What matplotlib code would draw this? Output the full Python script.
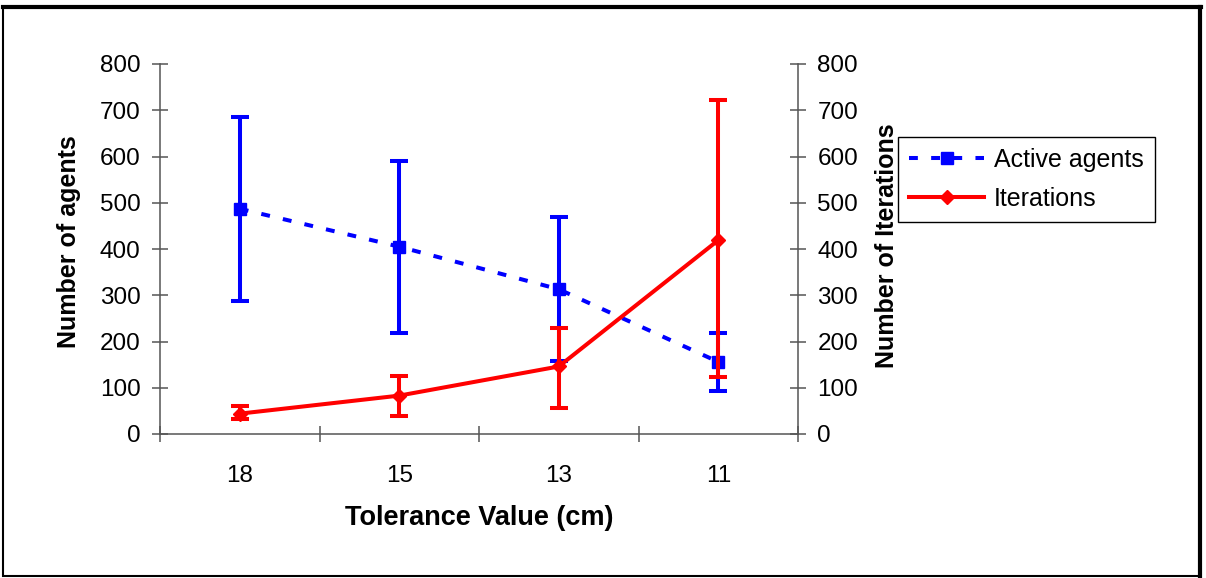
import matplotlib
matplotlib.use("Agg")
from matplotlib import pyplot as plt
from matplotlib.lines import Line2D
from matplotlib.patches import Rectangle
from matplotlib.ticker import FixedLocator, NullFormatter

# tolerance values (cm) on the category axis
tolerances = ["18", "15", "13", "11"]

# active agents: mean and error half-width
agents_mean = [487, 405, 313, 156]
agents_err = [199, 186, 156, 62]

# iterations: mean and asymmetric error (lower, upper)
iter_mean = [44, 83, 146, 419]
iter_err_low = [12, 44, 89, 296]
iter_err_high = [16, 43, 84, 303]

BLUE = "#0000ff"
RED = "#ff0000"
SPINE = "#555555"
DASHES = (0, (2.2, 3.3))

plt.rcParams["font.family"] = ["Liberation Sans", "DejaVu Sans"]

fig = plt.figure(figsize=(12.06, 5.78), dpi=100)
ax = fig.add_axes([160 / 1206, 1 - 434 / 578, 638 / 1206, 370 / 578])
ax2 = ax.twinx()

x = list(range(len(tolerances)))

ax.errorbar(x, agents_mean, yerr=agents_err, color=BLUE, lw=2.9,
            linestyle=DASHES, marker="s", ms=8.5,
            elinewidth=2.9, capsize=6.5, capthick=2.9, zorder=3)
ax2.errorbar(x, iter_mean, yerr=[iter_err_low, iter_err_high], color=RED,
             lw=2.9, marker="D", ms=7.5, elinewidth=2.9, capsize=6.5,
             capthick=2.9, zorder=3)

for a in (ax, ax2):
    a.set_xlim(-0.5, len(tolerances) - 0.5)
    a.set_ylim(0, 800)
    a.set_yticks(range(0, 801, 100))
    a.spines["top"].set_visible(False)
    for s in a.spines.values():
        s.set_color(SPINE)
        s.set_linewidth(1.1)
    a.tick_params(axis="y", direction="inout", length=12, width=1.1,
                  color=SPINE, labelsize=17.5, pad=8.0)

ax2.spines["left"].set_visible(False)
ax2.spines["bottom"].set_visible(False)
ax.spines["right"].set_visible(False)

# category labels sit between boundary ticks
ax.set_xticks(x)
ax.set_xticklabels(tolerances)
ax.xaxis.set_minor_locator(FixedLocator([i - 0.5 for i in range(len(tolerances) + 1)]))
ax.xaxis.set_minor_formatter(NullFormatter())
ax.tick_params(axis="x", which="major", length=0, labelsize=17.5, pad=22)
ax.tick_params(axis="x", which="minor", direction="inout", length=12,
               width=1.1, color=SPINE)

ax.set_ylabel("Number of agents", fontsize=18, fontweight="bold")
ax2.set_ylabel("Number of Iterations", fontsize=18, fontweight="bold")
ax.set_xlabel("Tolerance Value (cm)", fontsize=19.5, fontweight="bold")
for lab in (ax.yaxis.label, ax2.yaxis.label, ax.xaxis.label):
    lab.set_va("center")
    lab.set_ha("center")
ax.yaxis.set_label_coords(-0.143, 0.52)
ax2.yaxis.set_label_coords(1.139, 0.51)
ax.xaxis.set_label_coords(0.5, -0.227)

handles = [
    Line2D([], [], color=BLUE, lw=2.9, linestyle=DASHES, marker="s", ms=8.5),
    Line2D([], [], color=RED, lw=2.9, marker="D", ms=7.5),
]
leg = fig.legend(handles, ["Active agents", "Iterations"], loc="upper left",
                 bbox_to_anchor=(898 / 1206, 1 - 137 / 578),
                 bbox_transform=fig.transFigure, borderaxespad=0,
                 fontsize=18, handlelength=3.0, handletextpad=0.4,
                 labelspacing=0.6, borderpad=0.44, fancybox=False,
                 framealpha=1)
leg.get_frame().set_edgecolor("black")
leg.get_frame().set_linewidth(1.0)

# outer chart frame, heavier on the top and right edges
fig.add_artist(Rectangle((3 / 1206, 1 - 576 / 578), 1197 / 1206, 569 / 578,
                         transform=fig.transFigure, fill=False,
                         edgecolor="black", lw=1.5))
fig.add_artist(Line2D([3 / 1206, 1201 / 1206], [1 - 7 / 578, 1 - 7 / 578],
                      transform=fig.transFigure, color="black", lw=3))
fig.add_artist(Line2D([1200 / 1206, 1200 / 1206], [1 - 7 / 578, 1 - 576 / 578],
                      transform=fig.transFigure, color="black", lw=3))

fig.savefig("out.png", dpi=100)
